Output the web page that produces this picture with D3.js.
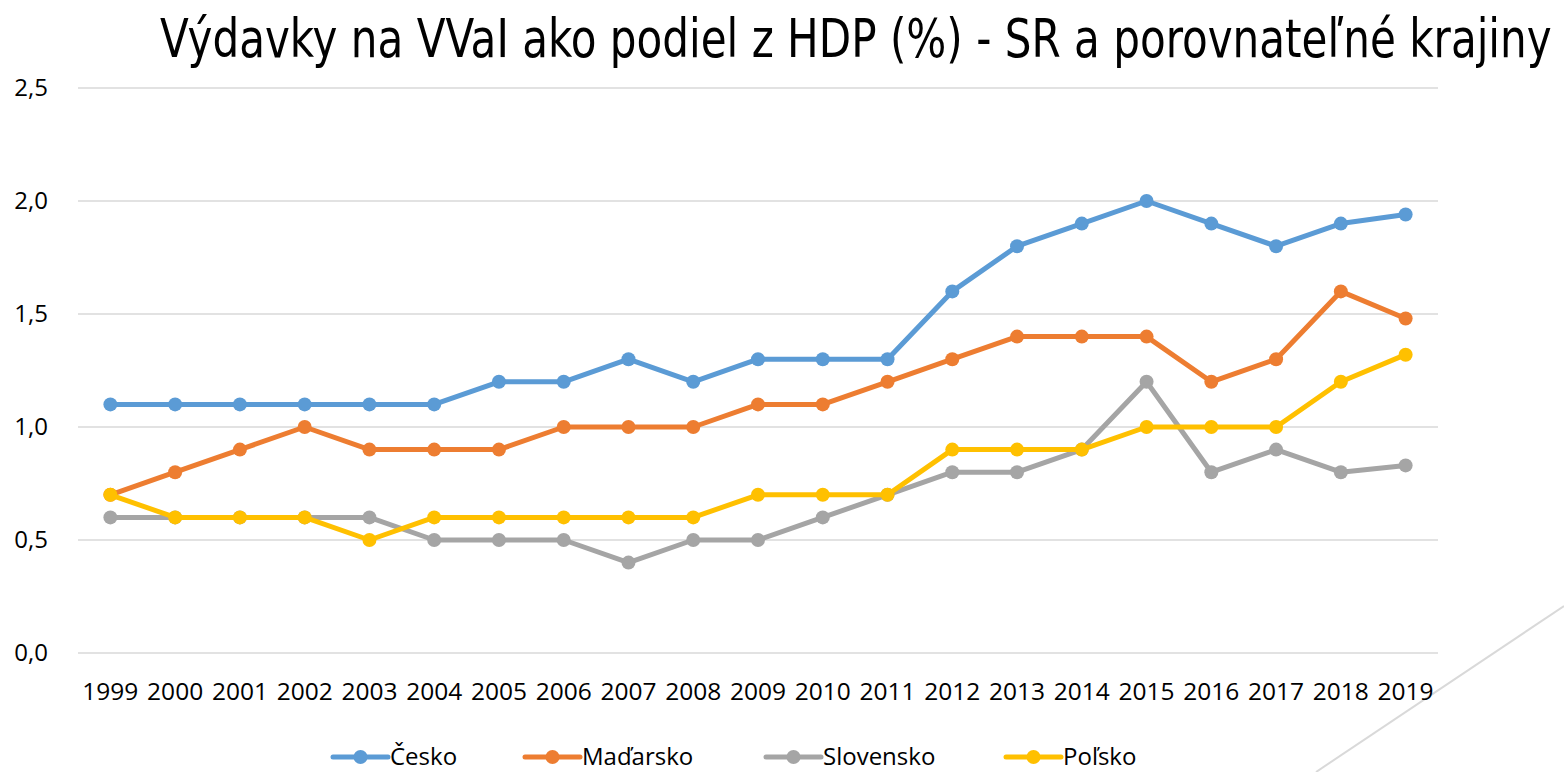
<!DOCTYPE html>
<html>
<head>
<meta charset="utf-8">
<script src="https://cdnjs.cloudflare.com/ajax/libs/d3/7.8.5/d3.min.js"></script>
<style>
	body { margin: 0; background: #fff; }
	svg { display: block; }
</style>
</head>
<body>
<div id="chart"></div>
<script>
var years = ["1999","2000","2001","2002","2003","2004","2005","2006","2007","2008","2009","2010","2011","2012","2013","2014","2015","2016","2017","2018","2019"];
var yTicks = [0, 0.5, 1.0, 1.5, 2.0, 2.5];

var cesko     = [1.1,1.1,1.1,1.1,1.1,1.1,1.2,1.2,1.3,1.2,1.3,1.3,1.3,1.6,1.8,1.9,2.0,1.9,1.8,1.9,1.94];
var madarsko  = [0.7,0.8,0.9,1.0,0.9,0.9,0.9,1.0,1.0,1.0,1.1,1.1,1.2,1.3,1.4,1.4,1.4,1.2,1.3,1.6,1.48];
var slovensko = [0.6,0.6,0.6,0.6,0.6,0.5,0.5,0.5,0.4,0.5,0.5,0.6,0.7,0.8,0.8,0.9,1.2,0.8,0.9,0.8,0.83];
var polsko    = [0.7,0.6,0.6,0.6,0.5,0.6,0.6,0.6,0.6,0.6,0.7,0.7,0.7,0.9,0.9,0.9,1.0,1.0,1.0,1.2,1.32];

var seriesNames = ["Česko", "Maďarsko", "Slovensko", "Poľsko"];
var seriesValues = [cesko, madarsko, slovensko, polsko];
var seriesColours = ["#5B9BD5", "#ED7D31", "#A5A5A5", "#FFC000"];

var W = 1564, H = 772;
var font = "'Open Sans', 'Noto Sans', sans-serif";

var svg = d3.select("#chart").append("svg")
	.attr("width", W)
	.attr("height", H);

// title, squeezed horizontally to the slide's width
var title = svg.append("text")
	.attr("x", 0)
	.attr("y", 0)
	.style("font-family", "'Liberation Sans Narrow', 'DejaVu Sans Condensed', 'Liberation Sans', sans-serif")
	.style("font-size", "54px")
	.attr("fill", "#000")
	.text("Výdavky na VVaI ako podiel z HDP (%) - SR a porovnateľné krajiny");
var titleW = title.node().getComputedTextLength();
title.attr("transform", "translate(160,57) scale(" + (1392 / titleW) + ",1)");

// decorative slide line
svg.append("line")
	.attr("x1", 1564)
	.attr("y1", 606)
	.attr("x2", 1316)
	.attr("y2", 772)
	.attr("stroke", "#d9d9d9")
	.attr("stroke-width", 2);

var x = d3.scaleBand()
	.domain(years)
	.range([78, 1438]);

var y = d3.scaleLinear()
	.domain([0, 2.5])
	.range([653, 88]);

// gridlines
svg.append("g").selectAll("line")
	.data(yTicks)
	.enter()
  .append("line")
	.attr("x1", 78)
	.attr("x2", 1438)
	.attr("y1", function (d) { return y(d); })
	.attr("y2", function (d) { return y(d); })
	.attr("stroke", "#d9d9d9")
	.attr("stroke-width", 1.5);

// y labels
svg.append("g").selectAll("text")
	.data(yTicks)
	.enter()
  .append("text")
	.attr("x", 48)
	.attr("y", function (d) { return y(d); })
	.attr("dy", "0.35em")
	.attr("text-anchor", "end")
	.style("font-family", font)
	.style("font-size", "24px")
	.attr("fill", "#000")
	.text(function (d) { return d3.format(".1f")(d).replace(".", ","); });

// x labels
svg.append("g").selectAll("text")
	.data(years)
	.enter()
  .append("text")
	.attr("x", function (d) { return x(d) + x.bandwidth() / 2; })
	.attr("y", 700)
	.attr("text-anchor", "middle")
	.style("font-family", font)
	.style("font-size", "24.5px")
	.attr("fill", "#000")
	.text(function (d) { return d; });

var line = d3.line()
	.x(function (d, i) { return x(years[i]) + x.bandwidth() / 2; })
	.y(function (d) { return y(d); });

var seriesGroup = svg.append("g").selectAll("g")
	.data(seriesValues)
	.enter()
  .append("g");

seriesGroup.append("path")
	.attr("d", function (d) { return line(d); })
	.attr("fill", "none")
	.attr("stroke", function (d, i) { return seriesColours[i]; })
	.attr("stroke-width", 5)
	.attr("stroke-linejoin", "round")
	.attr("stroke-linecap", "round");

seriesGroup.each(function (vals, si) {
	d3.select(this).selectAll("circle")
		.data(vals)
		.enter()
	  .append("circle")
		.attr("cx", function (d, i) { return x(years[i]) + x.bandwidth() / 2; })
		.attr("cy", function (d) { return y(d); })
		.attr("r", 7)
		.attr("fill", seriesColours[si]);
});

// legend
var legendX = [333, 525, 766, 1006];
var legend = svg.append("g").selectAll("g")
	.data(seriesNames)
	.enter()
  .append("g")
	.attr("transform", function (d, i) { return "translate(" + legendX[i] + ",757)"; });

legend.append("line")
	.attr("x1", 0)
	.attr("x2", 55)
	.attr("stroke", function (d, i) { return seriesColours[i]; })
	.attr("stroke-width", 5)
	.attr("stroke-linecap", "round");

legend.append("circle")
	.attr("cx", 27.5)
	.attr("r", 7)
	.attr("fill", function (d, i) { return seriesColours[i]; });

legend.append("text")
	.attr("x", 57)
	.attr("dy", "0.35em")
	.style("font-family", font)
	.style("font-size", "24px")
	.attr("fill", "#000")
	.text(function (d) { return d; });
</script>
</body>
</html>
